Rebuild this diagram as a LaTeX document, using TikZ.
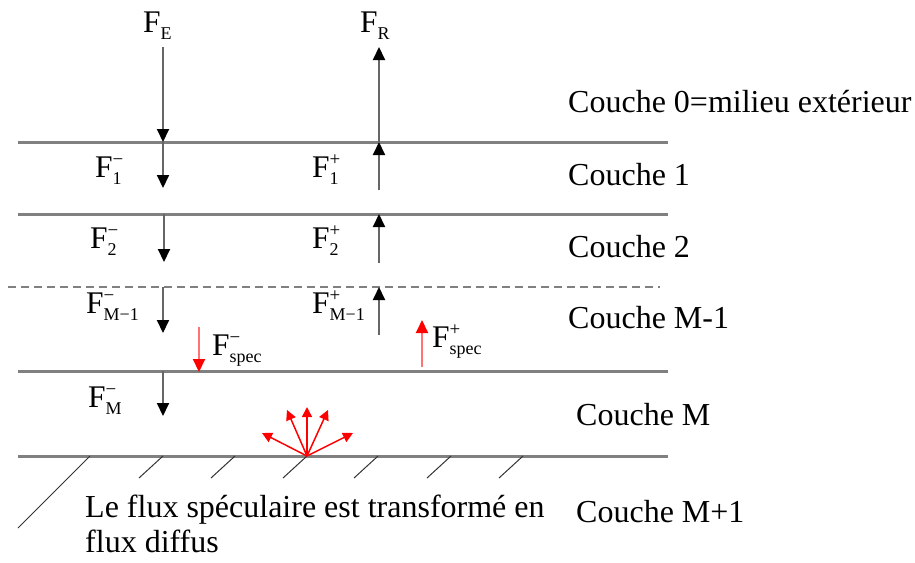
\documentclass[tikz,border=0pt]{standalone}
\usepackage{fontspec}
\setmainfont{Liberation Serif}
\usetikzlibrary{arrows.meta}
\newcommand{\FF}[2]{F\rlap{\raisebox{0.36em}{\fontsize{19}{19}\selectfont #2}}\raisebox{-0.24em}{\fontsize{18}{18}\selectfont #1}}
\begin{document}
\begin{tikzpicture}[x=1pt,y=-1pt,
  layer/.style={draw=black!50,line width=3pt},
  layerdash/.style={draw=black!50,line width=2.6pt,dash pattern=on 8pt off 5pt},
  flux/.style={draw=black!60,line width=2pt,-{Triangle[width=12pt,length=13pt,color=black]}},
  spec/.style={draw=red!55,line width=2pt,-{Triangle[width=12pt,length=13pt,color=red]}},
  diff/.style={draw=red,line width=1.5pt,-{Triangle[width=10pt,length=10pt,color=red]}},
  hatch/.style={draw=black!80,line width=1pt},
  lbl/.style={inner sep=0pt,anchor=base west,font=\fontsize{31.5}{35}\selectfont},
  big/.style={inner sep=0pt,anchor=base west,font=\fontsize{32}{35}\selectfont}]
\useasboundingbox (0,0) rectangle (915,562);
% layer boundaries
\coordinate (l0a) at (18,142); \coordinate (l0b) at (668,142);
\coordinate (l1a) at (18,214); \coordinate (l1b) at (668,214);
\coordinate (l2a) at (8,287);  \coordinate (l2b) at (660,287);
\coordinate (l3a) at (18,371); \coordinate (l3b) at (668,371);
\coordinate (l4a) at (18,456); \coordinate (l4b) at (668,456);
\draw[layer] (l0a) -- (l0b);
\draw[layer] (l1a) -- (l1b);
\draw[layerdash] (l2a) -- (l2b);
\draw[layer] (l3a) -- (l3b);
\draw[layer] (l4a) -- (l4b);
% hatching
\coordinate (h0a) at (90,456); \coordinate (h0b) at (18,528);
\draw[hatch] (h0a) -- (h0b);
\foreach \x in {163,235,307,378,451,523}{
  \draw[hatch] (\x,456) -- (\x-24,478);
}
% down fluxes
\coordinate (dE) at (163,47);  \coordinate (d0) at (163,142);
\coordinate (d1) at (163,188);
\coordinate (d2a) at (164,214); \coordinate (d2b) at (164,262);
\coordinate (d3a) at (163,287); \coordinate (d3b) at (163,333);
\coordinate (d4a) at (163,371); \coordinate (d4b) at (163,416);
\draw[flux] (dE) -- (d0);
\draw[flux] (d0) -- (d1);
\draw[flux] (d2a) -- (d2b);
\draw[flux] (d3a) -- (d3b);
\draw[flux] (d4a) -- (d4b);
% up fluxes
\coordinate (uR) at (379,47);  \coordinate (u0) at (379,142);
\coordinate (u1) at (379,190);
\coordinate (u2a) at (379,263); \coordinate (u2b) at (379,214);
\coordinate (u3a) at (379,335); \coordinate (u3b) at (379,287);
\draw[flux] (u1) -- (u0);
\draw[flux] (u0) -- (uR);
\draw[flux] (u2a) -- (u2b);
\draw[flux] (u3a) -- (u3b);
% specular fluxes
\coordinate (sma) at (199,327); \coordinate (smb) at (199,372);
\coordinate (spa) at (422,367); \coordinate (spb) at (422,320);
\draw[spec] (sma) -- (smb);
\draw[spec] (spa) -- (spb);
% diffuse arrows
\coordinate (o) at (307,456);
\coordinate (t1) at (262,433); \coordinate (t2) at (287,410);
\coordinate (t3) at (307,407); \coordinate (t4) at (328,410);
\coordinate (t5) at (353,433);
\foreach \t in {t1,t2,t3,t4,t5}{ \draw[diff] (o) -- (\t); }
% flux labels
\node[lbl] (FE) at (143,32) {\FF{E}{}};
\node[lbl] (FR) at (360,32) {\FF{R}{}};
\node[lbl] (F1m) at (95,177) {\FF{1}{−}};
\node[lbl] (F1p) at (312,177) {\FF{1}{+}};
\node[lbl] (F2m) at (90,248) {\FF{2}{−}};
\node[lbl] (F2p) at (312,248) {\FF{2}{+}};
\node[lbl] (F3m) at (86,313) {\FF{M−1}{−}};
\node[lbl] (F3p) at (312,313) {\FF{M−1}{+}};
\node[lbl] (Fsm) at (212,355) {\FF{spec}{−}};
\node[lbl] (Fsp) at (432,347) {\FF{spec}{+}};
\node[lbl] (F4m) at (88,407) {\FF{M}{−}};
% layer labels
\node[big] (c0) at (568,112) {Couche 0=milieu extérieur};
\node[big] (c1) at (568,185) {Couche 1};
\node[big] (c2) at (568,257) {Couche 2};
\node[big] (c3) at (568,328) {Couche M-1};
\node[big] (c4) at (576,425) {Couche M};
\node[big] (c5) at (576,522) {Couche M+1};
% note
\node[big] (n1) at (85,517) {Le flux spéculaire est transformé en};
\node[big] (n2) at (85,552) {flux diffus};
\end{tikzpicture}
\end{document}
